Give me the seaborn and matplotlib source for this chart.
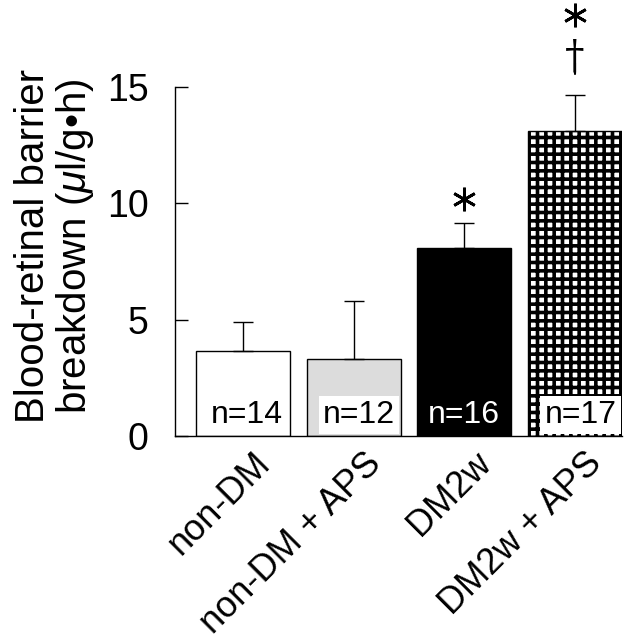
import numpy as np
import pandas as pd
import matplotlib
matplotlib.use("Agg")
import matplotlib.pyplot as plt
import matplotlib.transforms as mtransforms
import seaborn as sns

# values
groups = ["non-DM", "non-DM + APS", "DM2w", "DM2w + APS"]
means = [3.67, 3.32, 8.1, 13.1]
sems = [1.22, 2.5, 1.04, 1.55]
n_labels = ["n=14", "n=12", "n=16", "n=17"]
bar_colors = ["white", "#dcdcdc", "black", "white"]
stars = [False, False, True, True]
daggers = ["", "", "", "\u2020"]

df = pd.DataFrame({"group": groups, "mean": means, "sem": sems})

sns.set_style("ticks")
plt.rcParams["font.family"] = ["Liberation Sans", "DejaVu Sans"]
plt.rcParams["text.color"] = "black"
plt.rcParams["axes.labelcolor"] = "black"
plt.rcParams["xtick.color"] = "black"
plt.rcParams["ytick.color"] = "black"
plt.rcParams["axes.edgecolor"] = "black"
plt.rcParams["mathtext.fontset"] = "custom"
plt.rcParams["mathtext.it"] = "Liberation Sans:italic"
plt.rcParams["mathtext.rm"] = "Liberation Sans"
plt.rcParams["hatch.linewidth"] = 2.6
plt.rcParams["hatch.color"] = "black"

fig = plt.figure(figsize=(6.38, 6.39), dpi=100)
ax = fig.add_axes([0.2743, 0.3177, 0.7006, 0.546])

sns.barplot(data=df, x="group", y="mean", hue="group", palette=bar_colors,
            width=0.85, errorbar=None, legend=False, ax=ax,
            edgecolor="black", linewidth=1.0, saturation=1)

# checkered fill for the last bar
ax.patches[3].set_hatch("++")

x = np.arange(len(groups))
ax.errorbar(x, means, yerr=[np.zeros(len(sems)), sems], fmt="none",
            ecolor="black", elinewidth=1.0, capsize=7, capthick=1.0,
            clip_on=False, zorder=1)

# n= labels inside bars
for i, lab in enumerate(n_labels):
    if i == 2:
        ax.text(i, 0.9, lab, ha="center", va="center", fontsize=23, color="white")
    elif i in (1, 3):
        ax.text(i + 0.05, 0.9, lab, ha="center", va="center", fontsize=23,
                color="black",
                bbox=dict(facecolor="white", edgecolor="none", pad=3))
    else:
        ax.text(i + 0.04, 0.9, lab, ha="center", va="center", fontsize=23,
                color="black")

# significance marks: asterisk (vs non-DM), dagger (vs DM2w)
for i in range(len(groups)):
    top = means[i] + sems[i]
    star_off = 1.05
    if daggers[i]:
        ax.plot([i, i], [top + 0.9, top + 1.4], color="black", lw=1.5,
                clip_on=False)
        ax.text(i, top + 1.65, daggers[i], ha="center", va="center",
                fontsize=28, family="DejaVu Serif", clip_on=False)
        star_off = 3.45
    if stars[i]:
        ax.plot([i], [top + star_off], marker=(6, 2, 0), ms=17, mew=2.0,
                color="black", clip_on=False)

ax.set_xlim(-0.614, 3.425)
ax.set_ylim(0, 15)
ax.set_yticks([0, 5, 10, 15])
ax.tick_params(axis="y", direction="in", length=9, width=1, labelsize=27, pad=19)
ax.tick_params(axis="x", length=0, labelsize=26, pad=16)
ax.set_xlabel("")
ax.set_ylabel("Blood-retinal barrier\nbreakdown ($\\mathit{\\mu}$l/g\u2022h)",
              fontsize=29, linespacing=1.05)
ax.yaxis.set_label_coords(-0.177, 0.544)

offset = mtransforms.ScaledTranslation(22 / 100, 0, fig.dpi_scale_trans)
for lab in ax.get_xticklabels():
    lab.set_rotation(45)
    lab.set_ha("right")
    lab.set_va("center")
    lab.set_rotation_mode("anchor")
    lab.set_transform(lab.get_transform() + offset)

sns.despine(ax=ax)
for s in ["left", "bottom"]:
    ax.spines[s].set_linewidth(1.0)

fig.savefig("out.png", dpi=100)
